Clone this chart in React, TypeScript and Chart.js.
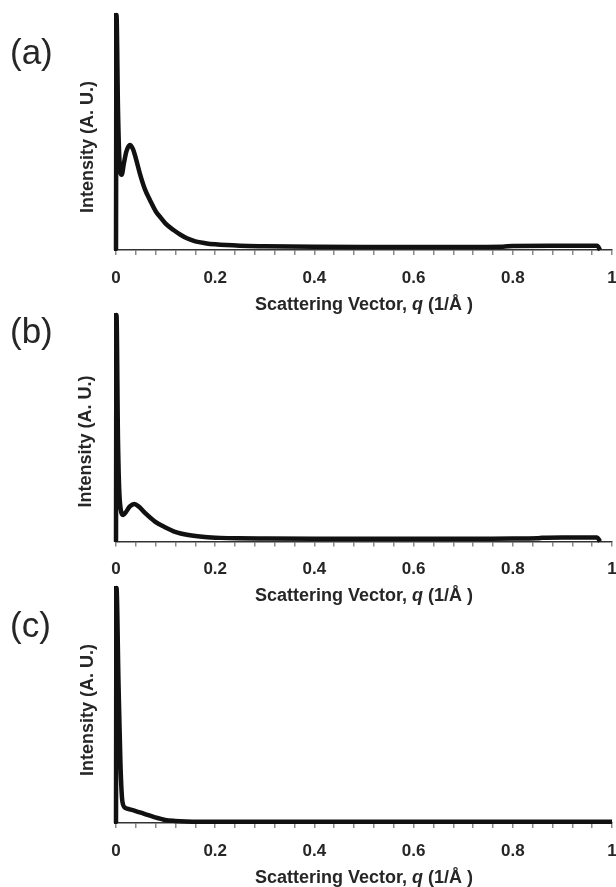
import React, { useEffect, useRef } from "react";
import { Chart, registerables } from "chart.js";

Chart.register(...registerables);

// ---- data ----
const qA = [0, 0.001, 0.004, 0.007, 0.0115, 0.016, 0.021, 0.028, 0.034, 0.04, 0.048, 0.058, 0.069, 0.08, 0.09, 0.1, 0.116, 0.13, 0.143, 0.16, 0.18, 0.2, 0.25, 0.3, 0.4, 0.5, 0.6, 0.7, 0.78, 0.8, 0.9, 0.97, 0.976];
const intensityA = [0, 1.0, 0.6, 0.38, 0.32, 0.37, 0.42, 0.447, 0.43, 0.39, 0.326, 0.26, 0.21, 0.165, 0.138, 0.112, 0.085, 0.065, 0.05, 0.037, 0.029, 0.024, 0.018, 0.016, 0.014, 0.013, 0.013, 0.013, 0.014, 0.017, 0.018, 0.018, 0];

const qB = [0, 0.001, 0.004, 0.008, 0.0147, 0.02, 0.028, 0.037, 0.047, 0.059, 0.0786, 0.0988, 0.119, 0.146, 0.179, 0.21, 0.246, 0.3, 0.4, 0.5, 0.6, 0.7, 0.8, 0.85, 0.86, 0.9, 0.97, 0.976];
const intensityB = [0, 1.0, 0.45, 0.17, 0.117, 0.13, 0.155, 0.166, 0.152, 0.125, 0.088, 0.063, 0.043, 0.029, 0.02, 0.016, 0.014, 0.013, 0.012, 0.012, 0.012, 0.012, 0.013, 0.014, 0.017, 0.018, 0.018, 0];

const qC = [0, 0.001, 0.005, 0.009, 0.013, 0.0196, 0.028, 0.0383, 0.0585, 0.0786, 0.0988, 0.119, 0.14, 0.17, 0.2, 0.3, 0.5, 0.7, 0.9, 1.0];
const intensityC = [0, 1.0, 0.6, 0.25, 0.09, 0.063, 0.058, 0.052, 0.038, 0.024, 0.013, 0.0085, 0.006, 0.005, 0.005, 0.005, 0.005, 0.005, 0.005, 0.005];

const xTickLabels = ["0", "0.2", "0.4", "0.6", "0.8", "1"];
const panelLetters = ["(a)", "(b)", "(c)"];
const yTitle = "Intensity (A. U.)";
const xTitleParts = ["Scattering Vector, ", "q", " (1/\u00C5 )"];

const FONT = '"Liberation Sans", Arial, sans-serif';
const TEXT = "#262626";

type PanelProps = {
  top: number;
  height: number;
  plotTop: number;
  plotBottom: number;
  q: number[];
  values: number[];
  letter: string;
  letterY: number;
  yTitleX: number;
  yTitleY: number;
};

function Panel(p: PanelProps) {
  const ref = useRef<HTMLCanvasElement | null>(null);
  useEffect(() => {
    if (!ref.current) return;
    const textPlugin = {
      id: "panelText",
      afterDraw(chart: any) {
        const { ctx, chartArea } = chart;
        ctx.save();
        ctx.fillStyle = TEXT;
        ctx.textBaseline = "middle";
        ctx.textAlign = "left";
        ctx.font = `35px ${FONT}`;
        ctx.fillText(p.letter, 10, p.letterY);

        ctx.save();
        ctx.font = `bold 18px ${FONT}`;
        ctx.translate(p.yTitleX, p.yTitleY);
        ctx.rotate(-Math.PI / 2);
        ctx.textAlign = "center";
        ctx.fillText(yTitle, 0, 0);
        ctx.restore();

        const fonts = [`bold 18px ${FONT}`, `italic bold 18px ${FONT}`, `bold 18px ${FONT}`];
        let total = 0;
        const widths = xTitleParts.map((s, i) => {
          ctx.font = fonts[i];
          const w = ctx.measureText(s).width;
          total += w;
          return w;
        });
        let x = (chartArea.left + chartArea.right) / 2 - total / 2;
        const y = chartArea.bottom + 55;
        xTitleParts.forEach((s, i) => {
          ctx.font = fonts[i];
          ctx.fillText(s, x, y);
          x += widths[i];
        });
        ctx.restore();
      },
    };

    const chart = new Chart(ref.current, {
      type: "line",
      data: {
        datasets: [
          {
            data: p.q.map((x, i) => ({ x, y: p.values[i] })),
            borderColor: "#111111",
            borderWidth: 4.5,
            pointRadius: 0,
            fill: false,
            cubicInterpolationMode: "monotone",
            clip: 8,
          } as any,
        ],
      },
      options: {
        animation: false,
        responsive: false,
        layout: { padding: { top: p.plotTop, right: 4, left: 0, bottom: 0 } },
        plugins: { legend: { display: false }, tooltip: { enabled: false } },
        scales: {
          x: {
            type: "linear",
            min: 0,
            max: 1,
            afterFit: (s: any) => {
              s.height = p.height - p.plotBottom;
              s.paddingLeft = 0;
              s.paddingRight = 0;
            },
            grid: {
              display: true,
              drawOnChartArea: false,
              drawTicks: true,
              tickLength: 5,
              color: "#8a8a8a",
              lineWidth: 1.5,
            },
            border: { display: true, color: "#333", width: 1.5 },
            ticks: {
              stepSize: 0.04,
              autoSkip: false,
              maxRotation: 0,
              padding: 13,
              color: TEXT,
              font: { family: FONT, size: 17, weight: "bold" },
              callback: (v: any) => {
                const r = Math.round(Number(v) * 5);
                return Math.abs(Number(v) * 5 - r) < 1e-6 ? xTickLabels[r] : "";
              },
            },
          },
          y: {
            type: "linear",
            min: 0,
            max: 1,
            afterFit: (s: any) => {
              s.width = 116;
              s.paddingTop = 0;
              s.paddingBottom = 0;
            },
            grid: { display: false },
            border: { display: true, color: "#111", width: 3.5 },
            ticks: { display: false },
          },
        },
      },
      plugins: [textPlugin],
    } as any);
    return () => chart.destroy();
  }, []);
  return (
    <div style={{ position: "absolute", left: 0, top: p.top, width: 616, height: p.height }}>
      <canvas ref={ref} width={616} height={p.height} style={{ display: "block" }} />
    </div>
  );
}

export default function App() {
  return (
    <div style={{ position: "absolute", left: 0, top: 0, width: 616, height: 887, background: "#fff" }}>
      <Panel top={0} height={320} plotTop={15} plotBottom={250} q={qA} values={intensityA}
        letter={panelLetters[0]} letterY={54} yTitleX={88} yTitleY={147} />
      <Panel top={300} height={310} plotTop={15} plotBottom={241.5} q={qB} values={intensityB}
        letter={panelLetters[1]} letterY={33.5} yTitleX={86} yTitleY={141.5} />
      <Panel top={573} height={314} plotTop={15} plotBottom={250} q={qC} values={intensityC}
        letter={panelLetters[2]} letterY={54.5} yTitleX={88} yTitleY={137} />
    </div>
  );
}
